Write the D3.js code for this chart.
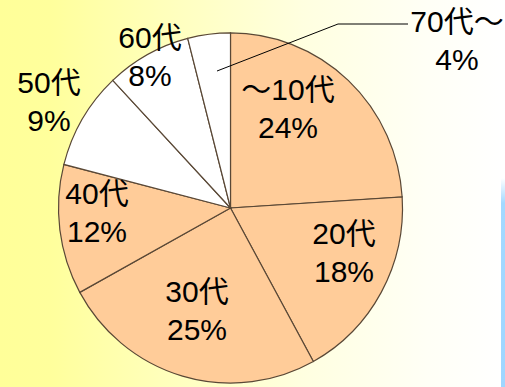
<!DOCTYPE html>
<html>
<head>
<meta charset="utf-8">
<script src="https://cdn.jsdelivr.net/npm/d3@7"></script>
<style>
  html, body { margin: 0; padding: 0; overflow: hidden; }
  svg { display: block; }
</style>
</head>
<body>
<svg id="chart" width="505" height="387"></svg>
<script>
// age groups and share (%)
const ages = ['～10代', '20代', '30代', '40代', '50代', '60代', '70代～']
const shares = [24, 18, 25, 12, 9, 8, 4]
const fills = ['#ffcc99', '#ffcc99', '#ffcc99', '#ffcc99', '#ffffff', '#ffffff', '#ffffff']

// label block centres (layout only)
const labelAt = [[288, 108], [344, 252], [197, 310], [97, 212], [49, 101], [150, 56], [457, 40]]

const W = 505, H = 387
const cx = 230.5, cy = 208, R = 172

const svg = d3.select('#chart')
const defs = svg.append('defs')

const bg = defs.append('linearGradient').attr('id', 'bg')
  .attr('x1', 0).attr('x2', 1).attr('y1', 0).attr('y2', 0)
bg.append('stop').attr('offset', '0%').attr('stop-color', '#ffff99')
bg.append('stop').attr('offset', '10%').attr('stop-color', '#ffff9c')
bg.append('stop').attr('offset', '35%').attr('stop-color', '#ffffbf')
bg.append('stop').attr('offset', '60%').attr('stop-color', '#ffffe0')
bg.append('stop').attr('offset', '85%').attr('stop-color', '#fffff6')
bg.append('stop').attr('offset', '100%').attr('stop-color', '#ffffff')

const blue = defs.append('linearGradient').attr('id', 'blue')
  .attr('x1', 0).attr('x2', 0).attr('y1', 0).attr('y2', 1)
blue.append('stop').attr('offset', '0%').attr('stop-color', '#ffffff')
blue.append('stop').attr('offset', '12%').attr('stop-color', '#a3d9ff')
blue.append('stop').attr('offset', '100%').attr('stop-color', '#9fd6ff')

svg.append('rect').attr('width', W).attr('height', H).attr('fill', 'url(#bg)')
svg.append('rect').attr('x', 501).attr('y', 178).attr('width', 4).attr('height', H - 178)
  .attr('fill', 'url(#blue)')

const pie = d3.pie().sort(null).value(d => d)
const arc = d3.arc().innerRadius(0).outerRadius(R)

const g = svg.append('g')
  .attr('transform', `translate(${cx},${cy}) scale(1,1.018)`)

g.selectAll('path.slice')
  .data(pie(shares))
  .join('path')
  .attr('class', 'slice')
  .attr('d', arc)
  .attr('fill', (d, i) => fills[i])
  .attr('stroke', '#5a4836')
  .attr('stroke-width', 1.2)
  .attr('vector-effect', 'non-scaling-stroke')

// leader line for the small 70代～ slice
svg.append('polyline')
  .attr('points', '217,71 338,24 408,24')
  .attr('fill', 'none')
  .attr('stroke', '#000')
  .attr('stroke-width', 1)

// one text per label, two lines as tspans
const labels = svg.selectAll('text.lbl')
  .data(ages)
  .join('text')
  .attr('class', 'lbl')
  .attr('x', (d, i) => labelAt[i][0])
  .attr('y', (d, i) => labelAt[i][1] - 19)
  .attr('font-family', '"Liberation Sans", "Noto Sans CJK JP", sans-serif')
  .attr('font-size', 30)
  .attr('fill', '#000')
  .attr('text-anchor', 'middle')
  .attr('dominant-baseline', 'central')

labels.append('tspan')
  .attr('x', (d, i) => labelAt[i][0])
  .text(d => d)
labels.append('tspan')
  .attr('x', (d, i) => labelAt[i][0])
  .attr('dy', 38)
  .text((d, i) => shares[i] + '%')
</script>
</body>
</html>
